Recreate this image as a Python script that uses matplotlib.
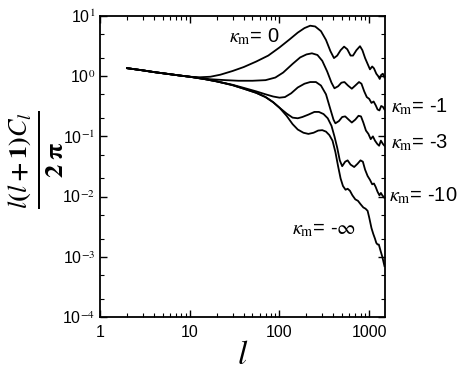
import matplotlib
matplotlib.use("Agg")
import matplotlib.pyplot as plt
from matplotlib.ticker import LogLocator, FixedLocator, NullFormatter

plt.rcParams['font.family'] = ['Liberation Sans', 'DejaVu Sans']
plt.rcParams['mathtext.fontset'] = 'stix'

# multipole l and l(l+1)C_l/2pi for each kappa_m
l_k0 = [2, 3, 4, 6, 8, 10, 13, 17, 22, 30, 40, 55, 75, 100, 130, 160, 190, 220, 250, 290, 330, 370, 405, 440, 480, 525, 570, 620, 660, 720, 790, 840, 900, 960, 1020, 1080, 1130, 1200, 1260, 1310, 1360, 1420, 1480]
c_k0 = [1.36, 1.25, 1.17, 1.08, 1.02, 0.98, 0.96, 0.98, 1.06, 1.22, 1.42, 1.75, 2.2, 3.0, 4.1, 5.3, 6.3, 6.9, 6.7, 5.6, 4.0, 2.6, 2.0, 2.2, 2.7, 3.1, 2.8, 2.2, 2.2, 2.7, 3.15, 2.7, 2.0, 1.6, 1.3, 1.45, 1.35, 1.1, 1.0, 0.9, 1.05, 1.1, 0.95]

l_k1 = [2, 3, 4, 6, 8, 10, 13, 17, 25, 35, 50, 70, 90, 110, 140, 170, 200, 230, 265, 300, 340, 380, 410, 450, 490, 530, 580, 640, 700, 770, 820, 880, 940, 1000, 1060, 1120, 1180, 1240, 1300, 1360, 1420, 1480]
c_k1 = [1.36, 1.25, 1.17, 1.08, 1.02, 0.98, 0.93, 0.89, 0.86, 0.84, 0.84, 0.86, 0.95, 1.15, 1.6, 2.05, 2.3, 2.4, 2.25, 1.8, 1.2, 0.78, 0.63, 0.68, 0.78, 0.8, 0.7, 0.62, 0.7, 0.8, 0.75, 0.56, 0.45, 0.42, 0.36, 0.38, 0.33, 0.28, 0.27, 0.32, 0.31, 0.28]

l_k3 = [2, 3, 4, 6, 8, 10, 15, 20, 30, 40, 55, 70, 85, 100, 115, 135, 160, 190, 220, 255, 290, 330, 370, 400, 420, 460, 500, 540, 590, 640, 700, 760, 810, 860, 920, 980, 1040, 1100, 1160, 1230, 1290, 1350, 1420, 1480]
c_k3 = [1.36, 1.25, 1.17, 1.08, 1.02, 0.98, 0.89, 0.82, 0.72, 0.64, 0.56, 0.5, 0.46, 0.44, 0.45, 0.52, 0.65, 0.75, 0.8, 0.8, 0.7, 0.5, 0.28, 0.19, 0.165, 0.18, 0.21, 0.215, 0.19, 0.17, 0.19, 0.22, 0.215, 0.17, 0.125, 0.11, 0.09, 0.1, 0.085, 0.075, 0.07, 0.085, 0.075, 0.07]

l_k10 = [2, 3, 4, 6, 8, 10, 15, 20, 30, 40, 55, 70, 85, 100, 120, 140, 160, 180, 210, 245, 275, 310, 345, 380, 410, 440, 470, 500, 540, 575, 620, 680, 740, 800, 850, 900, 960, 1020, 1080, 1130, 1180, 1240, 1300, 1350, 1400, 1480]
c_k10 = [1.36, 1.25, 1.17, 1.08, 1.02, 0.98, 0.89, 0.82, 0.71, 0.62, 0.53, 0.45, 0.37, 0.3, 0.24, 0.205, 0.2, 0.21, 0.23, 0.255, 0.255, 0.235, 0.2, 0.15, 0.1, 0.065, 0.04, 0.032, 0.038, 0.04, 0.034, 0.031, 0.035, 0.04, 0.038, 0.028, 0.022, 0.019, 0.016, 0.0165, 0.0145, 0.012, 0.0105, 0.0115, 0.0105, 0.0095]

l_kinf = [2, 3, 4, 6, 8, 10, 15, 20, 30, 40, 55, 70, 85, 100, 120, 140, 160, 185, 210, 240, 270, 300, 330, 360, 390, 420, 450, 480, 510, 545, 575, 610, 650, 700, 750, 800, 860, 910, 960, 1000, 1060, 1110, 1160, 1200, 1240, 1280, 1330, 1400, 1480]
c_kinf = [1.36, 1.25, 1.17, 1.08, 1.02, 0.98, 0.89, 0.82, 0.71, 0.62, 0.53, 0.45, 0.37, 0.3, 0.22, 0.16, 0.13, 0.115, 0.11, 0.115, 0.125, 0.127, 0.12, 0.105, 0.085, 0.055, 0.032, 0.02, 0.015, 0.013, 0.0135, 0.0125, 0.0105, 0.009, 0.0085, 0.0075, 0.0066, 0.0063, 0.0058, 0.0045, 0.003, 0.0024, 0.002, 0.0017, 0.0016, 0.0016, 0.0013, 0.001, 0.0007]

series = [(l_k0, c_k0), (l_k1, c_k1), (l_k3, c_k3), (l_k10, c_k10), (l_kinf, c_kinf)]
labels = ['0', '-1', '-3', '-10', r'-$\infty$']

x_ticks = [1, 10, 100, 1000]
x_ticklabels = ['1', '10', '100', '1000']
y_ticks = [1e-4, 1e-3, 1e-2, 1e-1, 1e0, 1e1]
y_ticklabels = [r'10$^{-4}$', r'10$^{-3}$', r'10$^{-2}$', r'10$^{-1}$', r'10$^{0}$', r'10$^{1}$']

fig = plt.figure(figsize=(4.63, 3.72), dpi=100)
ax = fig.add_axes([100/463, 1-317/372, 285/463, 301/372])

for lx, cy in series:
    ax.plot(lx, cy, color='black', lw=1.3)

ax.set_xscale('log')
ax.set_yscale('log')
ax.set_xlim(1, 1500)
ax.set_ylim(1e-4, 1e1)

ax.xaxis.set_major_locator(FixedLocator(x_ticks))
ax.set_xticklabels(x_ticklabels)
ax.yaxis.set_major_locator(FixedLocator(y_ticks))
ax.set_yticklabels(y_ticklabels)
ax.xaxis.set_minor_locator(LogLocator(base=10, subs=range(2, 10)))
ax.yaxis.set_minor_locator(LogLocator(base=10, subs=[2, 5]))
ax.xaxis.set_minor_formatter(NullFormatter())
ax.yaxis.set_minor_formatter(NullFormatter())

ax.tick_params(which='both', direction='in', top=True, right=True, labelsize=11.5, colors='black')
ax.tick_params(which='major', length=5, width=1)
ax.tick_params(which='minor', length=3, width=0.8)
ax.tick_params(axis='x', pad=6)
for s in ax.spines.values():
    s.set_linewidth(1.3)

def kap(v):
    return r'$\kappa_{\mathrm{m}}$= ' + v

fs = 14.5
ax.text(0.452, 0.93, kap(labels[0]), transform=ax.transAxes, fontsize=fs, va='center', ha='left')
ax.text(1.022, 0.70, kap(labels[1]), transform=ax.transAxes, fontsize=fs, va='center', ha='left')
ax.text(1.022, 0.578, kap(labels[2]), transform=ax.transAxes, fontsize=fs, va='center', ha='left')
ax.text(1.015, 0.402, kap(labels[3]), transform=ax.transAxes, fontsize=fs, va='center', ha='left')
ax.text(0.672, 0.292, kap(labels[4]), transform=ax.transAxes, fontsize=fs, va='center', ha='left')

ax.set_xlabel(r'$\mathit{l}$', fontsize=24, labelpad=0)
fig.text(36/463, 1-160/372, r'$\mathbf{\frac{\mathit{l}(\mathit{l}+1)\mathit{C}_{\mathit{l}}}{2\;\pi}}$',
         rotation=90, fontsize=27, ha='center', va='center')

fig.savefig('out.png', dpi=100)
